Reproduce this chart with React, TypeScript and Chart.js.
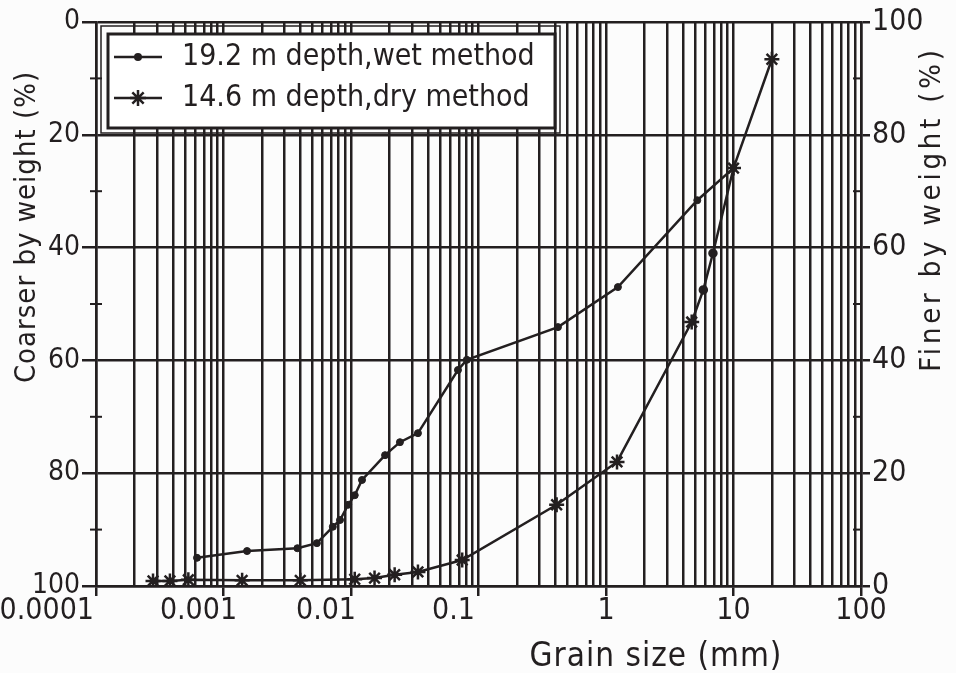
import React, { useEffect, useRef } from "react";
import { Chart, registerables } from "chart.js";

Chart.register(...registerables);

const INK = "#231f20";
const PAPER = "#fcfcfc";
const FONT = "'DejaVu Sans Condensed', 'DejaVu Sans', sans-serif";

// Grain-size axis (mm, log scale)
const decadeTicks = [0.0001, 0.001, 0.01, 0.1, 1, 10, 100];
const decadeLabels = ["0.0001", "0.001", "0.01", "0.1", "1", "10", "100"];
const gridMultipliers = [1, 2, 3, 4, 5, 6, 7, 8, 9];

// Percent axes
const percentTicks = [0, 20, 40, 60, 80, 100];
const minorPercentTicks = [10, 30, 50, 70, 90];

// 19.2 m depth, wet method
const wetLabel = "19.2 m depth,wet method";
const wetSize = [0.00062, 0.00153, 0.0038, 0.0054, 0.0072, 0.0082, 0.0095, 0.0107, 0.0122, 0.0185, 0.0242, 0.0335, 0.069, 0.081, 0.42, 1.24, 5.2, 10];
const wetFiner = [5.0, 6.2, 6.7, 7.6, 10.5, 11.7, 14.4, 16.1, 18.8, 23.2, 25.5, 27.1, 38.3, 40.1, 45.9, 53.0, 68.4, 74.1];

// 14.6 m depth, dry method
const dryLabel = "14.6 m depth,dry method";
const drySize = [0.00028, 0.00038, 0.00053, 0.0014, 0.004, 0.0107, 0.0153, 0.022, 0.0335, 0.0745, 0.41, 1.22, 4.7, 5.8, 6.9, 10, 20];
const dryFiner = [0.9, 0.9, 1.1, 1.0, 1.0, 1.2, 1.4, 2.0, 2.5, 4.6, 14.4, 22.0, 46.8, 52.5, 59.0, 74.1, 93.4];
const dryMarks = ["star", "star", "star", "star", "star", "star", "star", "star", "star", "star", "star", "star", "star", "circle", "circle", "star", "star"];

const axisTitleLeft = "Coarser by weight (%)";
const axisTitleRight = "Finer by weight (%)";
const axisTitleBottom = "Grain size (mm)";

const gridValues: number[] = [];
decadeTicks.slice(0, -1).forEach((d) => gridMultipliers.forEach((m) => gridValues.push(d * m)));
gridValues.push(decadeTicks[decadeTicks.length - 1]);

const isDecade = (v: number) => Math.abs(Math.log10(v) - Math.round(Math.log10(v))) < 1e-6;

const paperPlugin = {
  id: "paper",
  beforeDraw(chart: any) {
    const { ctx, width, height } = chart;
    ctx.save();
    ctx.fillStyle = PAPER;
    ctx.fillRect(0, 0, width, height);
    ctx.restore();
  },
};

function drawMark(ctx: CanvasRenderingContext2D, style: string, cx: number, cy: number, r: number) {
  ctx.save();
  ctx.strokeStyle = INK;
  ctx.fillStyle = INK;
  ctx.lineWidth = 2.5;
  if (style === "circle") {
    ctx.beginPath();
    ctx.arc(cx, cy, r, 0, Math.PI * 2);
    ctx.fill();
  } else {
    ctx.beginPath();
    for (let k = 0; k < 4; k++) {
      const a = (k * Math.PI) / 4;
      ctx.moveTo(cx - Math.cos(a) * r, cy - Math.sin(a) * r);
      ctx.lineTo(cx + Math.cos(a) * r, cy + Math.sin(a) * r);
    }
    ctx.stroke();
  }
  ctx.restore();
}

function rotatedText(ctx: any, text: string, cx: number, cy: number, spacing: number) {
  ctx.save();
  ctx.translate(cx, cy);
  ctx.rotate(-Math.PI / 2);
  ctx.letterSpacing = `${spacing}px`;
  ctx.fillText(text, 0, 0);
  ctx.restore();
}

const decorPlugin = {
  id: "decor",
  afterDraw(chart: any) {
    const { ctx, chartArea } = chart;
    const x = chart.scales.x;
    const yl = chart.scales.yCoarse;
    const yr = chart.scales.yFiner;
    ctx.save();
    ctx.strokeStyle = INK;
    ctx.fillStyle = INK;
    ctx.lineWidth = 2;

    // minor ticks on both percent axes
    minorPercentTicks.forEach((v) => {
      const py = yl.getPixelForValue(v);
      ctx.beginPath();
      ctx.moveTo(chartArea.left - 6, py);
      ctx.lineTo(chartArea.left + 6, py);
      ctx.stroke();
      const pr = yr.getPixelForValue(v);
      ctx.beginPath();
      ctx.moveTo(chartArea.right - 8, pr);
      ctx.lineTo(chartArea.right, pr);
      ctx.stroke();
    });

    // grain-size labels
    ctx.font = `30px ${FONT}`;
    ctx.textBaseline = "middle";
    decadeTicks.forEach((v, i) => {
      const px = x.getPixelForValue(v);
      const label = decadeLabels[i];
      if (i === 0) {
        ctx.textAlign = "right";
        ctx.fillText(label, px - 2, chartArea.bottom + 25);
      } else {
        ctx.textAlign = "center";
        ctx.fillText(label, v < 1 ? px - 25 : px, chartArea.bottom + 25);
      }
    });

    // axis titles
    ctx.textAlign = "center";
    ctx.textBaseline = "middle";
    ctx.font = `33px ${FONT}`;
    ctx.save();
    ctx.letterSpacing = "1px";
    ctx.fillText(axisTitleBottom, 656, 657);
    ctx.restore();
    ctx.font = `29px ${FONT}`;
    rotatedText(ctx, axisTitleLeft, 27, 227, 1);
    rotatedText(ctx, axisTitleRight, 932, 209, 3.8);

    // legend: thin outer frame, heavy inner box
    ctx.lineWidth = 1.5;
    ctx.strokeRect(101, 26, 459, 107);
    ctx.fillStyle = "#ffffff";
    ctx.fillRect(108, 34, 447, 94);
    ctx.lineWidth = 3;
    ctx.strokeRect(108, 34, 447, 94);

    const rows = [57, 98];
    chart.data.datasets.forEach((ds: any, i: number) => {
      const ly = rows[i];
      ctx.lineWidth = 2.5;
      ctx.strokeStyle = INK;
      ctx.beginPath();
      ctx.moveTo(114, ly);
      ctx.lineTo(162, ly);
      ctx.stroke();
      drawMark(ctx, i === 0 ? "circle" : "star", 138, ly, i === 0 ? 4 : 8);
      ctx.fillStyle = INK;
      ctx.font = `30px ${FONT}`;
      ctx.textAlign = "left";
      ctx.textBaseline = "middle";
      ctx.fillText(ds.label, 182, ly);
    });
    ctx.restore();
  },
};

export default function App() {
  const ref = useRef<HTMLCanvasElement | null>(null);

  useEffect(() => {
    if (!ref.current) return;
    const chart = new Chart(ref.current, {
      type: "scatter",
      data: {
        datasets: [
          {
            label: wetLabel,
            data: wetSize.map((s, i) => ({ x: s, y: wetFiner[i] })),
            yAxisID: "yFiner",
            showLine: true,
            borderColor: INK,
            borderWidth: 2.5,
            backgroundColor: INK,
            pointStyle: "circle",
            pointRadius: 3.5,
            pointBorderWidth: 1,
            pointBorderColor: INK,
            pointBackgroundColor: INK,
          },
          {
            label: dryLabel,
            data: drySize.map((s, i) => ({ x: s, y: dryFiner[i] })),
            yAxisID: "yFiner",
            showLine: true,
            borderColor: INK,
            borderWidth: 2.5,
            backgroundColor: INK,
            pointStyle: dryMarks as any,
            pointRadius: dryMarks.map((m) => (m === "star" ? 7.5 : 3.5)),
            pointBorderWidth: 2.5,
            pointBorderColor: INK,
            pointBackgroundColor: INK,
          },
        ],
      },
      options: {
        responsive: false,
        devicePixelRatio: 1,
        animation: false,
        layout: { padding: { top: 22, left: 0, right: 0, bottom: 0 } },
        plugins: { legend: { display: false }, tooltip: { enabled: false } },
        scales: {
          x: {
            type: "logarithmic",
            position: "bottom",
            min: decadeTicks[0],
            max: decadeTicks[decadeTicks.length - 1],
            afterBuildTicks: (scale: any) => {
              scale.ticks = gridValues.map((v) => ({ value: v, major: isDecade(v) }));
            },
            ticks: { autoSkip: false, maxRotation: 0, callback: () => "" },
            grid: {
              color: INK,
              lineWidth: 2.5,
              tickLength: 10,
              tickWidth: 2.5,
              tickColor: (c: any) => (c.tick && isDecade(c.tick.value) ? INK : "rgba(0,0,0,0)"),
            },
            border: { color: INK, width: 2.5 },
            afterFit: (scale: any) => {
              scale.height = 87;
            },
          },
          yCoarse: {
            type: "linear",
            position: "left",
            reverse: true,
            min: percentTicks[0],
            max: percentTicks[percentTicks.length - 1],
            afterBuildTicks: (scale: any) => {
              scale.ticks = percentTicks.map((v) => ({ value: v }));
            },
            ticks: { color: INK, font: { family: FONT, size: 28 }, padding: 2 },
            grid: { color: INK, lineWidth: 2.5, tickLength: 14, tickWidth: 2.5 },
            border: { color: INK, width: 2.5 },
            afterFit: (scale: any) => {
              scale.width = 96;
            },
          },
          yFiner: {
            type: "linear",
            position: "right",
            min: percentTicks[0],
            max: percentTicks[percentTicks.length - 1],
            afterBuildTicks: (scale: any) => {
              scale.ticks = percentTicks.map((v) => ({ value: v }));
            },
            ticks: { color: INK, font: { family: FONT, size: 30 }, padding: 2 },
            grid: { drawOnChartArea: false, color: INK, lineWidth: 2.5, tickLength: 9, tickWidth: 2.5 },
            border: { color: INK, width: 2.5 },
            afterFit: (scale: any) => {
              scale.width = 95;
            },
          },
        },
      },
      plugins: [paperPlugin, decorPlugin],
    } as any);
    return () => chart.destroy();
  }, []);

  return (
    <div style={{ position: "absolute", left: 0, top: 0, width: 956, height: 673 }}>
      <canvas ref={ref} width={956} height={673} />
    </div>
  );
}
